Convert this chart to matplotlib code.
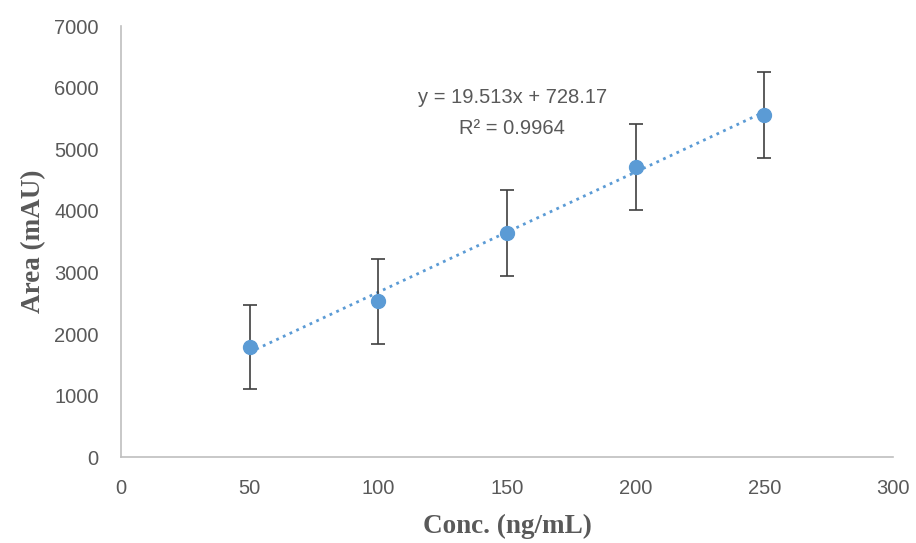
import numpy as np
from matplotlib import pyplot as plt

# calibration data
conc = np.array([50, 100, 150, 200, 250])
area = np.array([1786, 2532, 3636, 4708, 5552])
err = np.array([682, 690, 698, 698, 698])

slope, intercept = 19.513, 728.17
blue = "#5B9BD5"
grey = "#595959"

fig = plt.figure(figsize=(9.16, 5.43), dpi=100)
ax = fig.add_axes([0.132, 0.158, 0.843, 0.794])

# trendline
xt = np.array([conc[0], conc[-1]])
ax.plot(xt, slope * xt + intercept, ":", color=blue, lw=2, zorder=2)

ax.errorbar(conc, area, yerr=err, fmt="o", color=blue, ms=10,
            ecolor="#404040", elinewidth=1.2, capsize=4.7, capthick=1.2, zorder=3)

ax.text(152, 5844, "y = 19.513x + 728.17", ha="center", va="center",
        fontsize=14.5, color=grey, family="Liberation Sans")
ax.text(152, 5341, "R² = 0.9964", ha="center", va="center",
        fontsize=14.5, color=grey, family="Liberation Sans")

ax.set_xlim(0, 300)
ax.set_ylim(0, 7000)
ax.set_xticks(np.arange(0, 301, 50))
ax.set_yticks(np.arange(0, 7001, 1000))
for s in ["top", "right"]:
    ax.spines[s].set_visible(False)
for s in ["left", "bottom"]:
    ax.spines[s].set_color("#BFBFBF")
    ax.spines[s].set_linewidth(1.2)
ax.tick_params(length=0, labelsize=14.5, labelcolor=grey, pad=16)
for lab in ax.get_xticklabels() + ax.get_yticklabels():
    lab.set_family("Liberation Sans")

ax.set_xlabel("Conc. (ng/mL)", family="Liberation Serif", fontweight="bold",
              fontsize=19.5, color=grey, labelpad=11)
ax.set_ylabel("Area (mAU)", family="Liberation Serif", fontweight="bold",
              fontsize=19.5, color=grey, labelpad=6)

plt.savefig("out.png")
